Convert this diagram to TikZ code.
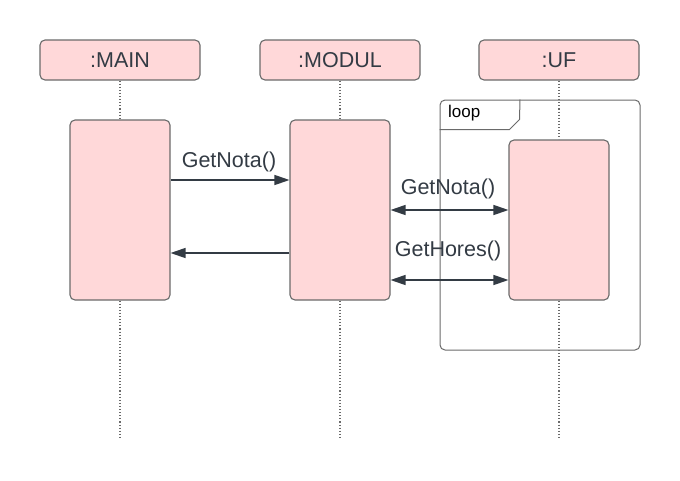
\documentclass[tikz,border=0pt]{standalone}
\usepackage{fontspec}
\setmainfont{Liberation Sans}
\usetikzlibrary{arrows.meta}
\definecolor{actfill}{HTML}{FFD8D9}
\definecolor{actline}{HTML}{6A6A6A}
\definecolor{ink}{HTML}{333B44}
\definecolor{lifeline}{HTML}{6A6A6A}
\definecolor{framecol}{HTML}{6A6A6A}
\begin{document}
\begin{tikzpicture}[x=1pt,y=-1pt,
  head/.style={draw=actline, fill=actfill, rounded corners=5pt, line width=1.1pt,
    minimum width=160pt, minimum height=40pt, inner sep=0pt, text=ink,
    font=\fontsize{21.5}{25}\selectfont},
  act/.style={draw=actline, fill=actfill, rounded corners=5pt, line width=1.1pt,
    minimum width=100pt, inner sep=0pt},
  life/.style={draw=lifeline, line width=1.1pt, dotted},
  msg/.style={draw=ink, line width=1.3pt, -{Triangle[length=15pt,width=10pt]}},
  dmsg/.style={draw=ink, line width=1.3pt,
    {Triangle[length=15pt,width=10pt]}-{Triangle[length=15pt,width=10pt]}},
  lbl/.style={text=ink, font=\fontsize{21.5}{25}\selectfont, inner sep=0pt},
  framebox/.style={draw=framecol, line width=1pt}]
\useasboundingbox[fill=white] (0,0) rectangle (680,480);

% headers
\node[head] (hmain) at (120,60) {:MAIN};
\node[head] (hmod) at (340,60) {:MODUL};
\node[head] (huf) at (559,60) {:UF};

% loop frame
\node[framebox, rounded corners=5pt, minimum width=200pt, minimum height=250pt,
  inner sep=0pt] (loopframe) at (540,225) {};
\draw[framebox] ([yshift=-30pt]loopframe.north west) -- ++(70,0) -- ++(10,-10)
  -- (loopframe.north west -| 520,0);
\node[anchor=west, text=black, font=\fontsize{17}{20}\selectfont, inner sep=0pt]
  (looplbl) at (448,113) {loop};

% activations
\node[act, minimum height=180pt] (amain) at (120,210) {};
\node[act, minimum height=180pt] (amod) at (340,210) {};
\node[act, minimum height=160pt] (auf) at (559,220) {};

% lifelines
\coordinate (endmain) at (120,440);
\coordinate (endmod) at (340,440);
\coordinate (enduf) at (559,440);
\draw[life] (hmain.south) -- (amain.north);
\draw[life] (amain.south) -- (endmain);
\draw[life] (hmod.south) -- (amod.north);
\draw[life] (amod.south) -- (endmod);
\draw[life] (huf.south) -- (auf.north);
\draw[life] (auf.south) -- (enduf);

% messages
\draw[msg] ([yshift=30pt]amain.east) -- ([yshift=30pt]amod.west);
\node[lbl] (l1) at (229,162) {GetNota()};
\draw[msg] ([yshift=-43pt]amod.west) -- ([yshift=-43pt]amain.east);
\draw[dmsg] (amod.east) -- ([yshift=10pt]auf.west);
\node[lbl] (l2) at (448,189) {GetNota()};
\draw[dmsg] ([yshift=-70pt]amod.east) -- ([yshift=-60pt]auf.west);
\node[lbl] (l3) at (448,251) {GetHores()};
\end{tikzpicture}
\end{document}
